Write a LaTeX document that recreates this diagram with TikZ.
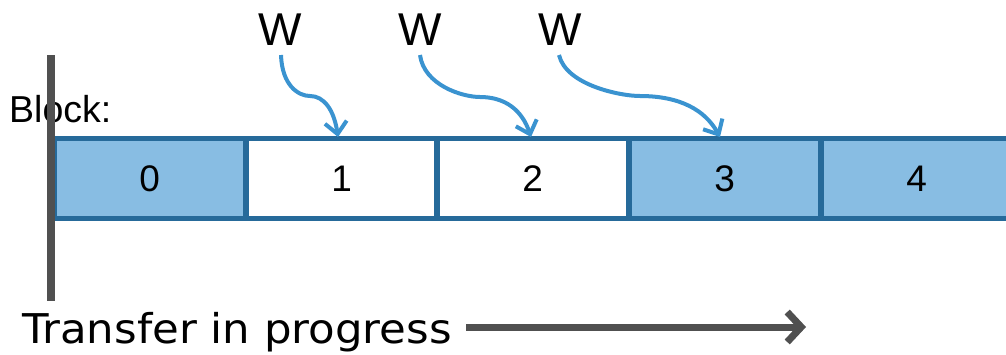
\documentclass[tikz,border=0pt]{standalone}
\usepackage{fontspec}
\setmainfont{Liberation Sans}
\newfontfamily\trfont{DejaVu Sans}
\usetikzlibrary{arrows.meta}
\definecolor{blkfill}{HTML}{88BDE3}
\definecolor{blkedge}{HTML}{266A9A}
\definecolor{wblue}{HTML}{3A93D0}
\definecolor{darkgray}{HTML}{505050}
\tikzset{
  blk/.style={draw=blkedge, line width=5.5pt, minimum width=192pt, minimum height=80pt, inner sep=0pt, font=\fontsize{37}{37}\selectfont, anchor=west},
  filled/.style={fill=blkfill},
  empty/.style={fill=white},
  wlabel/.style={font=\fontsize{46}{46}\selectfont, inner sep=0pt, anchor=base},
  warrow/.style={draw=wblue, line width=4pt, -{Straight Barb[length=12pt, width=22pt, line width=4pt]}},
}
\begin{document}
\begin{tikzpicture}[x=1pt, y=-1pt]
\useasboundingbox (0,0) rectangle (1006,354);
\clip (0,0) rectangle (1006,354);
% blocks
\node[blk, filled] (b0) at (51,178.5) {0};
\node[blk, empty] (b1) at (243,178.5) {1};
\node[blk, empty] (b2) at (434,178.5) {2};
\node[blk, filled] (b3) at (626,178.5) {3};
\node[blk, filled] (b4) at (818,178.5) {4};
\node[anchor=base west, inner sep=0pt, font=\fontsize{37.5}{37.5}\selectfont] (blabel) at (9,122) {Block:};
% vertical line
\coordinate (vtop) at (51,55);
\coordinate (vbot) at (51,301);
\draw[darkgray, line width=7.5pt] (vtop) -- (vbot);
% W labels
\node[wlabel] (w1) at (280.5,45) {W};
\node[wlabel] (w2) at (420,45) {W};
\node[wlabel] (w3) at (560,45) {W};
\coordinate (t1) at (338,137);
\coordinate (t2) at (531,137);
\coordinate (t3) at (720,137);
\draw[warrow] (281,55) .. controls (282,85) and (298,96) .. (310,96) .. controls (324,96) and (334,110) .. (t1);
\draw[warrow] (420,55) .. controls (424,85) and (462,97) .. (480,97) .. controls (505,97) and (522,110) .. (t2);
\draw[warrow] (559,55) .. controls (566,85) and (620,96) .. (640,96) .. controls (680,96) and (705,110) .. (t3);
% transfer
\node[anchor=base west, inner sep=0pt, font=\trfont\fontsize{41}{41}\selectfont] (tr) at (22,343) {\scalebox{1.06}[1]{Transfer in progress}};
\coordinate (aend) at (806,327);
\draw[darkgray, line width=7pt, -{Straight Barb[length=14pt, width=30pt, line width=7pt]}] (tr.east |- aend) ++(14,0) -- (aend);
\end{tikzpicture}
\end{document}
